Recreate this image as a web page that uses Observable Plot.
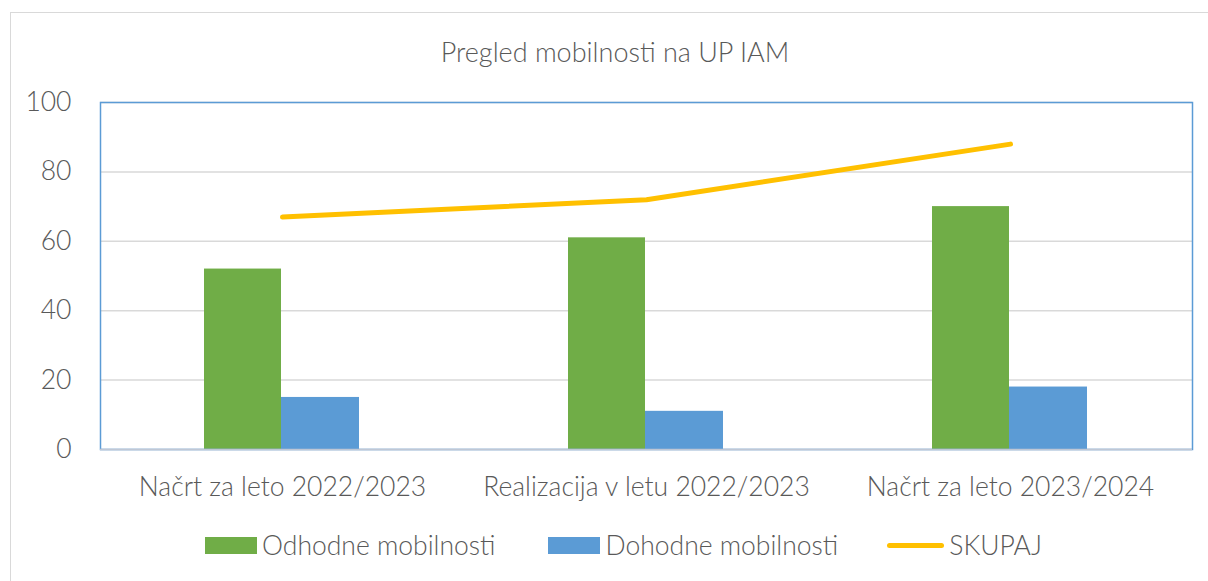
<!DOCTYPE html>
<html><head><meta charset="utf-8">
<script src="https://cdn.jsdelivr.net/npm/d3@7"></script>
<script src="https://cdn.jsdelivr.net/npm/@observablehq/plot@0.6"></script>
<style>
body{margin:0;background:#fff;font-family:Lato,sans-serif;}
#wrap{position:relative;width:1208px;height:581px;overflow:hidden;}
#border{position:absolute;left:10px;top:12px;width:1300px;height:700px;border:1.5px solid #d9d9d9;box-sizing:border-box;}
#title{position:absolute;left:0;top:35px;width:1230px;text-align:center;font-size:27px;font-weight:300;color:#595959;}
#legend{position:absolute;left:205px;top:529px;display:flex;align-items:center;font-size:26.5px;font-weight:300;color:#595959;white-space:nowrap;}
.sw{display:inline-block;width:52px;height:17px;margin-right:5px;}
.ln{display:inline-block;width:57px;height:5px;border-radius:3px;margin-right:5px;}
.item{display:flex;align-items:center;}
svg{position:absolute;left:0;top:0;}
</style></head>
<body><div id="wrap"><div id="border"></div><div id="title">Pregled mobilnosti na UP IAM</div><div id="legend"></div></div>
<script>
const categories = ["Načrt za leto 2022/2023", "Realizacija v letu 2022/2023", "Načrt za leto 2023/2024"];
const odhodne = [52, 61, 70];
const dohodne = [15, 11, 18];
const skupaj = [67, 72, 88];
const yTicks = [0, 20, 40, 60, 80, 100];
const seriesNames = ["Odhodne mobilnosti", "Dohodne mobilnosti", "SKUPAJ"];
const colors = ["#70ad47", "#5b9bd5", "#ffc000"];

const rows = categories.map((c, i) => ({c, o: odhodne[i], d: dohodne[i], s: skupaj[i]}));

const chart = Plot.plot({
  width: 1208, height: 581,
  marginTop: 102, marginLeft: 100, marginRight: 16, marginBottom: 132,
  style: {fontFamily: "Lato, sans-serif", fontSize: "26.5px", fontWeight: 300, color: "#595959", background: "transparent"},
  x: {domain: categories, padding: 0, label: null},
  y: {domain: [0, 100], ticks: yTicks, label: null},
  marks: [
    Plot.gridY(yTicks, {stroke: "#d9d9d9", strokeOpacity: 1, strokeWidth: 1.5}),
    Plot.barY(rows, {x: "c", y: "o", fill: colors[0], insetLeft: 104, insetRight: 183}),
    Plot.barY(rows, {x: "c", y: "d", fill: colors[1], insetLeft: 181, insetRight: 105}),
    Plot.lineY(rows, {x: "c", y: "s", stroke: colors[2], strokeWidth: 5, strokeLinecap: "round"}),
    Plot.axisY({ticks: yTicks, tickSize: 0, tickPadding: 29, fill: "#595959", fontSize: 26.5, fontWeight: 300}),
    Plot.axisX({tickSize: 0, tickPadding: 28, fill: "#595959", fontSize: 26.5, fontWeight: 300}),
    Plot.frame({stroke: "#5b9bd5", strokeWidth: 1.5}),
    Plot.ruleY([0], {stroke: "#bfc7d5", strokeWidth: 1.5})
  ]
});
document.getElementById("wrap").appendChild(chart);

const leg = document.getElementById("legend");
seriesNames.forEach((n, i) => {
  const it = document.createElement("div");
  it.className = "item";
  it.style.marginRight = i === 0 ? "53px" : i === 1 ? "49px" : "0";
  const sw = document.createElement("span");
  sw.className = i < 2 ? "sw" : "ln";
  sw.style.background = colors[i];
  it.appendChild(sw);
  const t = document.createElement("span");
  t.textContent = n;
  it.appendChild(t);
  leg.appendChild(it);
});
</script></body></html>
